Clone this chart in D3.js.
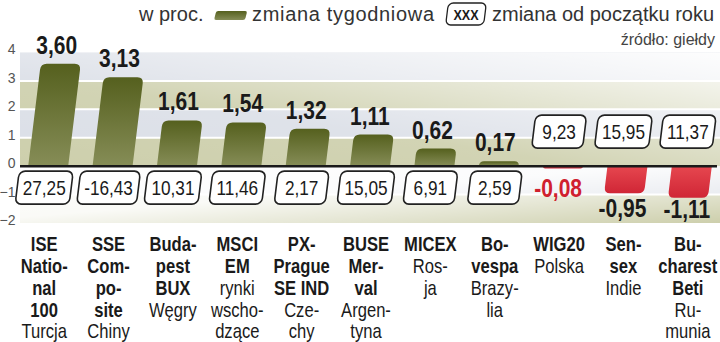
<!DOCTYPE html>
<html lang="pl">
<head>
<meta charset="utf-8">
<title>Giełdy – zmiana tygodniowa</title>
<script src="https://d3js.org/d3.v7.min.js"></script>
<style>
  body { margin: 0; background: #fff; }
  svg { display: block; }
</style>
</head>
<body>
<script>
// dane
const weekly = [3.60, 3.13, 1.61, 1.54, 1.32, 1.11, 0.62, 0.17, -0.08, -0.95, -1.11];
const ytd = [27.25, -16.43, 10.31, 11.46, 2.17, 15.05, 6.91, 2.59, 9.23, 15.95, 11.37];
const nameLines = [
  ["ISE", "Natio-", "nal", "100"], ["SSE", "Com-", "po-", "site"], ["Buda-", "pest", "BUX"],
  ["MSCI", "EM"], ["PX-", "Prague", "SE IND"], ["BUSE", "Mer-", "val"], ["MICEX"],
  ["Bo-", "vespa"], ["WIG20"], ["Sen-", "sex"], ["Bu-", "charest", "Beti"]
];
const countryLines = [
  ["Turcja"], ["Chiny"], ["Węgry"], ["rynki", "wscho-", "dzące"], ["Cze-", "chy"],
  ["Argen-", "tyna"], ["Ros-", "ja"], ["Brazy-", "lia"], ["Polska"], ["Indie"], ["Ru-", "munia"]
];
const yTicks = [4, 3, 2, 1, 0, -1, -2];

const W = 720, H = 342;
// brak kroju wąskiego - zwężamy Liberation Sans skalą poziomą
const font = "'Liberation Sans', Arial, sans-serif";
const fmt = d3.formatLocale({ decimal: ",", thousands: " ", grouping: [3], currency: ["", ""], minus: "-" }).format(".2f");
const SKEW = -7;
const slope = -Math.tan(SKEW * Math.PI / 180);

const x = d3.scaleBand().domain(d3.range(weekly.length)).range([12, 720]);
const y = d3.scaleLinear().domain([-2, 4]).range([223, 52.5]);
const y0 = y(0);
const cx = i => x(i) + x.bandwidth() / 2;

const svg = d3.select("body").append("svg").attr("width", W).attr("height", H)
  .attr("font-family", font);
const defs = svg.append("defs");

function grad(id, stops, x1, y1, x2, y2) {
  const g = defs.append("linearGradient").attr("id", id)
    .attr("x1", x1).attr("y1", y1).attr("x2", x2).attr("y2", y2);
  stops.forEach(s => g.append("stop").attr("offset", s[0]).attr("stop-color", s[1]).attr("stop-opacity", s[2] ?? 1));
}
grad("olive", [[0, "#55601e"], [1, "#868d57"]], 0, 0, 0, 1);
grad("red", [[0, "#e6474f"], [1, "#d02636"]], 0, 0, 0, 1);
grad("fadeUp", [[0, "#fff", 0], [0.4, "#fff", 0.1], [1, "#fff", 0.95]], 0, 1, 1, 0);
grad("fadeDown", [[0, "#fff", 1], [0.45, "#fff", 0.9], [1, "#fff", 0]], 0, 0, 1, 1);

// pasy tła
const bandsG = svg.append("g");
bandsG.selectAll("rect").data(d3.range(-2, 4)).join("rect")
  .attr("x", 20).attr("width", 700)
  .attr("y", d => y(d + 1)).attr("height", d => y(d) - y(d + 1))
  .attr("fill", d => Math.abs(d) % 2 === 1 ? "#dbdfe7" : "#cdcfac");
bandsG.append("rect").attr("x", 20).attr("width", 700).attr("y", y(4)).attr("height", y0 - y(4)).attr("fill", "url(#fadeUp)");
bandsG.append("rect").attr("x", 20).attr("width", 700).attr("y", y0).attr("height", y(-2) - y0).attr("fill", "url(#fadeDown)");
bandsG.selectAll("line").data(yTicks.filter(d => d !== 0 && d !== 4 && d !== -2)).join("line")
  .attr("x1", 20).attr("x2", 720).attr("y1", d => y(d)).attr("y2", d => y(d))
  .attr("stroke", "#fff").attr("stroke-width", 2);

// oś Y
const yAxis = svg.append("g").attr("transform", "translate(15.5,-3)")
  .call(d3.axisLeft(y).tickValues(yTicks).tickSize(0).tickPadding(0).tickFormat(d3.format("d")));
yAxis.select(".domain").remove();
yAxis.selectAll("text").attr("font-family", font).attr("font-size", 14).attr("fill", "#555");

// słupki
function barPath(x0, w, yb, ye, r) {
  const s = ye < yb ? 1 : -1;
  r = Math.min(r, Math.abs(yb - ye));
  return `M${x0},${yb}L${x0},${ye + s * r}Q${x0},${ye} ${x0 + r},${ye}` +
    `L${x0 + w - r},${ye}Q${x0 + w},${ye} ${x0 + w},${ye + s * r}L${x0 + w},${yb}Z`;
}
svg.append("g").selectAll("path").data(weekly).join("path")
  .attr("d", (d, i) => barPath(cx(i) - 16, 40, y0, y(d), 6))
  .attr("fill", d => d >= 0 ? "url(#olive)" : "url(#red)")
  .attr("transform", `translate(0,${y0}) skewX(${SKEW}) translate(0,${-y0})`);

// linia zera
svg.append("line").attr("x1", 20).attr("x2", 717).attr("y1", y0).attr("y2", y0)
  .attr("stroke", "#1a1a1a").attr("stroke-width", 2.5);

// wartości tygodniowe
svg.append("g").selectAll("text").data(weekly).join("text")
  .attr("transform", (d, i) => {
    const tx = d >= 0 ? cx(i) + slope * (y0 - y(d)) : cx(i) - 1;
    const ty = d >= 0 ? y(d) - 10 : Math.min(Math.max(y(d) + 24, 197), 218);
    return `translate(${tx},${ty}) scale(0.84,1)`;
  })
  .attr("text-anchor", "middle")
  .attr("font-weight", "bold").attr("font-size", 25)
  .attr("fill", d => d < 0 && d > -0.5 ? "#d0202e" : "#1a1a1a")
  .text(d => fmt(d));

// ramki: zmiana od początku roku
const boxG = svg.append("g").selectAll("g").data(ytd).join("g")
  .attr("transform", (d, i) => `translate(${cx(i)},${weekly[i] >= 0 ? y0 + 21.5 : y0 - 34.5})`);
boxG.append("text")
  .attr("text-anchor", "middle").attr("transform", "translate(0,7.5) scale(0.82,1)")
  .attr("font-size", 21).attr("fill", "#1a1a1a")
  .text(d => fmt(d));
boxG.insert("rect", "text")
  .each(function () {
    const tw = this.parentNode.querySelector("text").getComputedTextLength() * 0.82;
    const w = Math.max(51, tw + 11);
    d3.select(this).attr("x", -w / 2).attr("width", w);
  })
  .attr("y", -16.5).attr("height", 33).attr("rx", 6)
  .attr("fill", "#fff").attr("stroke", "#222").attr("stroke-width", 1.6)
  .attr("transform", `skewX(${SKEW})`);

// podpisy kategorii
const lh = 21.7;
const labG = svg.append("g").selectAll("text").data(nameLines).join("text")
  .attr("transform", (d, i) => `translate(${cx(i)},0) scale(0.83,1)`)
  .attr("text-anchor", "middle").attr("font-size", 20).attr("fill", "#1a1a1a");
labG.each(function (lines, i) {
  const t = d3.select(this);
  const all = lines.map(s => [s, true]).concat(countryLines[i].map(s => [s, false]));
  all.forEach((l, k) => {
    t.append("tspan").attr("x", 0).attr("y", 251.5 + k * lh)
      .attr("font-weight", l[1] ? "bold" : "normal").text(l[0]);
  });
});

// legenda
const leg = svg.append("g").attr("font-size", 20).attr("fill", "#333");
leg.append("text").attr("x", 139).attr("y", 21).text("w proc.");
leg.append("rect").attr("x", 214).attr("y", 11).attr("width", 31).attr("height", 9).attr("rx", 2)
  .attr("fill", "url(#olive)").attr("transform", `translate(0,20) skewX(${SKEW * 2}) translate(0,-20)`);
leg.append("text").attr("x", 252).attr("y", 21).attr("textLength", 182).text("zmiana tygodniowa");
leg.append("rect").attr("x", 447).attr("y", 3).attr("width", 38).attr("height", 22).attr("rx", 5)
  .attr("fill", "#fff").attr("stroke", "#222").attr("stroke-width", 1.3)
  .attr("transform", `translate(0,14) skewX(${SKEW}) translate(0,-14)`);
leg.append("text").attr("transform", "translate(466,19.5) scale(0.84,1)").attr("text-anchor", "middle")
  .attr("font-weight", "bold").attr("font-size", 15).attr("fill", "#1a1a1a").text("XXX");
leg.append("text").attr("x", 492).attr("y", 21).attr("textLength", 222).text("zmiana od początku roku");
svg.append("text").attr("x", 715).attr("y", 45).attr("text-anchor", "end")
  .attr("font-size", 16).attr("fill", "#444").text("źródło: giełdy");
</script>
</body>
</html>
